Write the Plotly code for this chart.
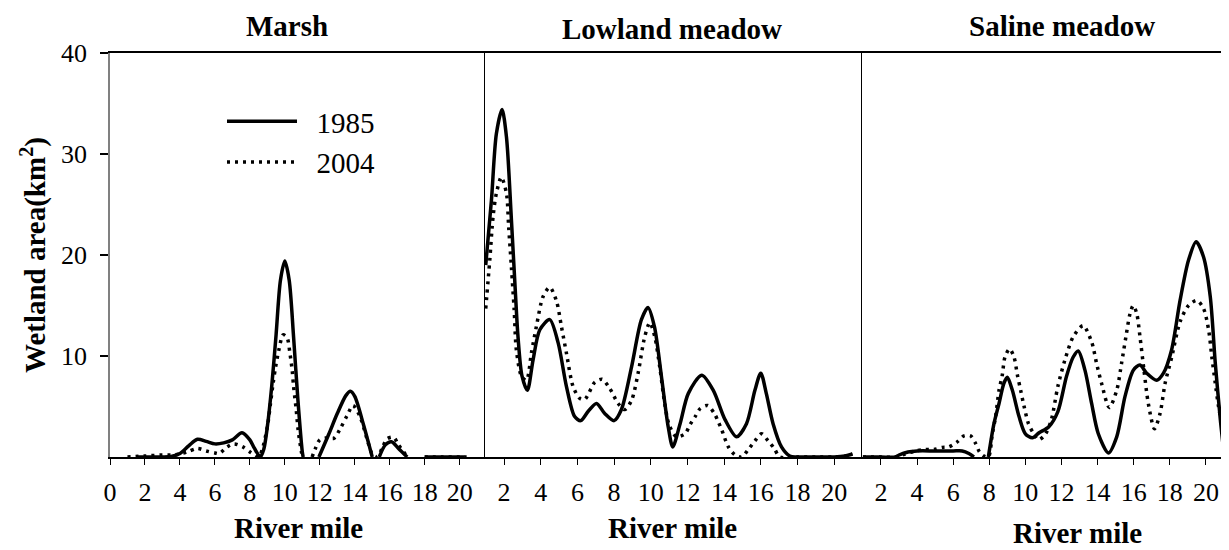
import plotly.graph_objects as go

# ---------------- data ----------------
# Marsh
marsh_x_1985 = [1.5, 2, 2.5, 3, 3.5, 4, 4.5, 5, 5.5, 6, 6.5, 7, 7.55, 8, 8.25, 8.6, 8.8, 9, 9.25, 9.5,
                9.75, 10, 10.25, 10.5, 10.75, 11.0, 11.05, 11.5, 11.95, 12.5, 13, 13.5, 13.75, 14, 14.5,
                15, 15.2, 15.4, 15.75, 16.1, 16.5, 17, 17.5, 18, 19, 20, 20.3]
marsh_y_1985 = [0, 0, 0, 0, 0.05, 0.35, 1.1, 1.75, 1.55, 1.3, 1.4, 1.7, 2.4, 1.7, 0.9, 0, 0.8, 3.0, 7.0, 12.1,
                17.5, 19.4, 17.5, 11.9, 5.6, 0.5, 0, None, 0, 2.2, 4.3, 6.1, 6.5, 6.0, 3.2,
                0, None, 0, 1.2, 1.5, 0.85, 0, None, 0, 0, 0, 0]

marsh_x_2004 = [1.0, 2, 3, 3.5, 4, 4.4, 5, 5.5, 6, 6.25, 6.7, 7.1, 7.6, 8.05, 8.5, 8.75, 9.03, 9.18, 9.33,
                9.47, 9.66, 9.9, 10.13, 10.29, 10.42, 10.5, 10.65, 10.76, 10.9, 11.0, 11.3, 11.56, 11.75,
                12.0, 12.4, 12.8, 13.2, 13.56, 13.9, 14.3, 14.7, 15.0, 15.3, 15.56, 15.85, 16.23, 16.5,
                16.8, 17.0, 17.5, 18, 19, 20, 20.4]
marsh_y_2004 = [0, 0.1, 0.2, 0.2, 0.3, 0.5, 0.85, 0.6, 0.4, 0.35, 1.0, 1.3, 1.0, 0.45, 0, 1.0, 3.3, 5.3, 7.3,
                8.9, 10.6, 12.1, 11.8, 10.3, 8.6, 7.0, 4.7, 2.7, 1.0, 0, None, 0, 0.85,
                1.7, 1.9, 1.85, 2.9, 4.1, 5.1, 4.0, 1.8, 0.3, 0, 0.85, 1.8, 1.95, 1.2,
                0.5, 0, None, 0, 0, 0, 0]

# Lowland meadow
lowland_x_1985 = [1.0, 1.31, 1.58, 1.89, 2.13, 2.4, 2.62, 2.76, 2.98, 3.27, 3.58, 3.95, 4.49, 4.95, 5.4,
                  5.85, 6.18, 6.58, 7.04, 7.49, 8.0, 8.4, 8.95, 9.49, 9.85, 10.2, 10.58, 10.95, 11.2,
                  11.6, 12.05, 12.78, 13.41, 14.05, 14.68, 15.22, 15.68, 16.0, 16.3, 16.67, 17.13,
                  17.58, 17.94, 19, 20, 20.6, 21.0]
lowland_y_1985 = [19.0, 25.4, 32.0, 34.4, 31.7, 23.5, 16.2, 11.9, 8.0, 6.6, 9.6, 12.6, 13.6, 11.3, 7.0,
                  4.0, 3.6, 4.5, 5.3, 4.3, 3.6, 4.7, 8.9, 13.6, 14.8, 12.9, 8.0, 3.0, 1.0,
                  3.3, 6.3, 8.1, 6.6, 3.7, 2.0, 3.3, 6.6, 8.3, 6.3, 3.3, 1.0,
                  0.1, 0, 0, 0, 0.1, 0.3]

lowland_x_2004 = [1.0, 1.22, 1.4, 1.58, 1.85, 2.13, 2.25, 2.4, 2.55, 2.67, 2.95, 3.22, 3.49, 3.76, 4.13,
                  4.49, 4.85, 5.13, 5.4, 5.76, 6.13, 6.4, 6.95, 7.35, 7.76, 8.22, 8.58, 8.95, 9.31, 9.67,
                  9.95, 10.22, 10.49, 10.76, 11.0, 11.4, 11.87, 12.14, 12.42, 12.7, 13.1, 13.47, 13.68,
                  13.87, 14.23, 14.6, 14.95, 15.37, 15.68, 16.04, 16.4, 16.73, 17.04, 18, 19, 20, 20.6, 21.0]
lowland_y_2004 = [14.7, 19.5, 23.8, 26.1, 27.7, 26.1, 22.8, 18.8, 14.6, 10.6, 8.0, 7.6, 10.3, 12.9, 15.9,
                  16.8, 15.5, 12.9, 10.3, 7.0, 5.8, 5.7, 7.4, 7.7, 6.8, 5.3, 4.7, 5.6, 8.3, 11.9,
                  13.3, 11.9, 8.9, 5.3, 3.2, 2.0, 2.3, 3.2, 4.0, 4.8, 5.1, 4.3, 3.5,
                  2.7, 1.0, 0.2, 0, 0.86, 1.6, 2.3, 1.6, 0.86, 0, 0, 0, 0, 0.1, 0.3]

# Saline meadow
saline_x_1985 = [1.0, 2, 2.8, 3.0, 3.5, 4.0, 5, 6, 6.5, 6.87, 7.15, 7.5, 7.95, 8.26, 8.54, 8.81, 9.0, 9.28,
                 9.65, 10.0, 10.39, 10.76, 11.3, 11.8, 12.28, 12.65, 12.93, 13.3, 13.67, 14.04, 14.6,
                 15.06, 15.52, 15.98, 16.35, 16.72, 17.28, 17.65, 18.1, 18.57, 19.04, 19.46, 19.87,
                 20.24, 20.52, 20.8, 20.98]
saline_y_1985 = [0, 0, 0, 0.2, 0.5, 0.6, 0.6, 0.6, 0.6, 0.35, 0, None, 0, 3.3, 5.3, 7.3, 7.9, 6.6,
                 4.0, 2.3, 1.9, 2.4, 3.0, 4.5, 8.0, 9.9, 10.5, 8.6, 5.3, 2.3, 0.4,
                 2.0, 6.0, 8.6, 9.1, 8.3, 7.6, 8.3, 10.6, 15.5, 19.5, 21.3, 19.8,
                 15.9, 9.3, 3.7, 0.7]

saline_x_2004 = [1.0, 2, 2.8, 3.35, 3.9, 4.46, 4.93, 5.39, 5.76, 6.19, 6.6, 6.96, 7.24, 7.46, 7.7, 7.95,
                 8.17, 8.35, 8.54, 8.72, 8.87, 9.13, 9.37, 9.56, 9.74, 9.93, 10.17, 10.43, 10.72, 11.09,
                 11.44, 11.8, 12.19, 12.65, 13.2, 13.67, 13.94, 14.22, 14.65, 15.06, 15.33, 15.57, 15.8,
                 15.98, 16.17, 16.35, 16.57, 16.81, 17.15, 17.46, 17.74, 18.11, 18.57, 19.04, 19.5,
                 19.87, 20.15, 20.33, 20.52, 20.7, 20.94, 21.0]
saline_y_2004 = [0, 0, 0, 0.3, 0.6, 0.75, 0.75, 0.95, 1.0, 1.45, 2.1, 2.1, 1.35, 0.5, 0.1, 0,
                 2.3, 4.0, 6.6, 8.1, 9.9, 10.7, 9.9, 8.1, 6.6, 5.0, 3.3, 2.4, 1.7, 2.2,
                 3.7, 7.0, 9.6, 11.9, 13.0, 11.4, 9.3, 7.3, 4.9, 6.6, 9.3, 11.9, 14.2,
                 15.0, 14.2, 11.9, 8.6, 5.3, 2.8, 4.3, 7.3, 9.9, 13.4, 15.0, 15.5,
                 14.7, 12.6, 9.9, 7.3, 5.0, 2.7, 2.0]

panel_titles = ["Marsh", "Lowland meadow", "Saline meadow"]
year_labels = ["1985", "2004"]
x_ticks_first = [0, 2, 4, 6, 8, 10, 12, 14, 16, 18, 20]
x_ticks_other = [2, 4, 6, 8, 10, 12, 14, 16, 18, 20]
y_ticks = [10, 20, 30, 40]

# ---------------- figure ----------------
FONT = "Liberation Serif"
OFF = 8                      # page body margin offset in the browser
WIN_W, WIN_H = 1229, 550
W, H = WIN_W - OFF, WIN_H - OFF
# plot area in window pixel coordinates
PX_L, PX_R, PX_T, PX_B = 110, 1229, 53, 457
ML = PX_L - OFF
MR = W - (PX_R - OFF)
MT = PX_T - OFF
MB = H - (PX_B - OFF)
PW = PX_R - PX_L
PH = PX_B - PX_T


def px_x(X):
    return (X - PX_L) / PW


def px_y(Y):
    return (PX_B - Y) / PH


fig = go.Figure()

series = [
    (marsh_x_1985, marsh_y_1985, marsh_x_2004, marsh_y_2004, "x", "y"),
    (lowland_x_1985, lowland_y_1985, lowland_x_2004, lowland_y_2004, "x2", "y2"),
    (saline_x_1985, saline_y_1985, saline_x_2004, saline_y_2004, "x3", "y3"),
]

for i, (x85, y85, x04, y04, xa, ya) in enumerate(series):
    fig.add_trace(go.Scatter(
        x=x85, y=y85, mode="lines", name="\u2002" + year_labels[0], xaxis=xa, yaxis=ya,
        line=dict(color="black", width=3.5, shape="spline", smoothing=0.8),
        connectgaps=False, showlegend=(i == 0), legendrank=1, hoverinfo="skip"))
    fig.add_trace(go.Scatter(
        x=x04, y=y04, mode="lines", name="\u2002" + year_labels[1], xaxis=xa, yaxis=ya,
        line=dict(color="black", width=3.5, dash="3px,5px", shape="spline", smoothing=0.8),
        connectgaps=False, showlegend=(i == 0), legendrank=2, hoverinfo="skip"))

b1 = px_x(485)
b2 = px_x(862)

xtickfont = dict(family=FONT, size=26, color="black")
ytickfont = dict(family=FONT, size=26, color="black")
common_x = dict(showgrid=False, zeroline=False, showline=True, linecolor="black", linewidth=2,
                mirror=True, ticks="outside", ticklen=6, tickwidth=1, tickcolor="black",
                tickfont=xtickfont, ticklabelstandoff=5, fixedrange=True, automargin=False)
common_y = dict(range=[0, 40], showgrid=False, zeroline=False, fixedrange=True, automargin=False)

fig.update_layout(
    width=W, height=H,
    margin=dict(l=ML, r=MR, t=MT, b=MB, autoexpand=False),
    paper_bgcolor="white", plot_bgcolor="white",
    font=dict(family=FONT, color="black"),
    xaxis=dict(domain=[0, b1], range=[0, 21.45], tickvals=x_ticks_first,
               ticktext=[str(v) for v in x_ticks_first], anchor="y", **common_x),
    xaxis2=dict(domain=[b1, b2], range=[0.96, 21.52], tickvals=x_ticks_other,
                ticktext=[str(v) for v in x_ticks_other], anchor="y2", **common_x),
    xaxis3=dict(domain=[b2, 1.0], range=[0.95, 21.28], tickvals=x_ticks_other,
                ticktext=[str(v) for v in x_ticks_other], anchor="y3", **common_x),
    yaxis=dict(anchor="x", tickvals=y_ticks, showticklabels=False,
               ticks="outside", ticklen=8, tickwidth=1.5, tickcolor="black",
               showline=True, linecolor="#808080", linewidth=1.5, **common_y),
    yaxis2=dict(anchor="x2", showticklabels=False, ticks="", showline=True,
                linecolor="black", linewidth=1, **common_y),
    yaxis3=dict(anchor="x3", showticklabels=False, ticks="", showline=True,
                linecolor="black", linewidth=1, **common_y),
    showlegend=True,
    legend=dict(x=px_x(222), y=px_y(96), xanchor="left", yanchor="top",
                bgcolor="rgba(0,0,0,0)", font=dict(family=FONT, size=29, color="black"),
                itemwidth=70, tracegroupgap=0),
)

ann = []
# y tick labels, placed at the y-axis values
for v in y_ticks:
    ann.append(dict(text=str(v), x=px_x(89), y=v, xref="paper", yref="y",
                    xanchor="right", yanchor="middle", showarrow=False,
                    font=ytickfont))
title_pos = [(287, 26), (672, 29), (1062, 26)]
for t, (X, Y) in zip(panel_titles, title_pos):
    ann.append(dict(text="<b>%s</b>" % t, x=px_x(X), y=px_y(Y), xref="paper", yref="paper",
                    xanchor="center", yanchor="middle", showarrow=False,
                    font=dict(family=FONT, size=29, color="black")))
xlabel_pos = [(298, 528), (672, 528), (1077, 533)]
for X, Y in xlabel_pos:
    ann.append(dict(text="<b>River mile</b>", x=px_x(X), y=px_y(Y), xref="paper", yref="paper",
                    xanchor="center", yanchor="middle", showarrow=False,
                    font=dict(family=FONT, size=29, color="black")))
ann.append(dict(text="<b>Wetland area(km<sup>2</sup>)</b>", x=px_x(33), y=px_y(255),
                xref="paper", yref="paper", xanchor="center", yanchor="middle",
                textangle=-90, showarrow=False, font=dict(family=FONT, size=29, color="black")))
fig.update_layout(annotations=ann)

fig.write_html("out.html")
